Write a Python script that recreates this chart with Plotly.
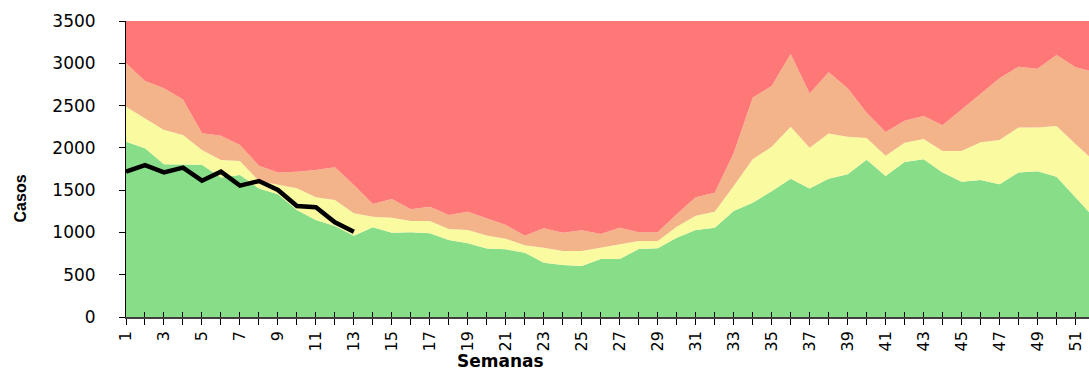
import plotly.graph_objects as go

# Epidemiological weeks
semanas = list(range(1, 53))

# Endemic channel boundaries (cumulative values per week)
zona_exito = [2073, 1994, 1805, 1805, 1800, 1650, 1680, 1520, 1450, 1265,
              1147, 1076, 962, 1060, 997, 1001, 989, 910, 871, 810,
              800, 761, 642, 615, 603, 686, 686, 804, 812, 938,
              1029, 1056, 1253, 1352, 1486, 1636, 1519, 1636, 1687, 1860,
              1667, 1833, 1864, 1710, 1600, 1620, 1569, 1710, 1722, 1657,
              1420, 1172]
zona_seguridad = [2487, 2349, 2211, 2152, 1974, 1856, 1844, 1608, 1561, 1521,
                  1415, 1383, 1226, 1186, 1174, 1135, 1135, 1040, 1029, 965,
                  926, 847, 820, 780, 780, 820, 851, 899, 899, 1068,
                  1198, 1245, 1549, 1864, 2014, 2250, 2002, 2171, 2132, 2116,
                  1907, 2061, 2104, 1963, 1963, 2065, 2093, 2242, 2242, 2258,
                  2045, 1843]
zona_alarma = [2999, 2790, 2704, 2573, 2172, 2144, 2034, 1789, 1710, 1718,
               1738, 1770, 1561, 1336, 1395, 1273, 1304, 1206, 1245, 1170,
               1088, 962, 1048, 997, 1025, 981, 1056, 1001, 1001, 1214,
               1415, 1470, 1935, 2593, 2731, 3109, 2644, 2893, 2704, 2416,
               2187, 2321, 2376, 2266, 2455, 2644, 2822, 2960, 2936, 3098,
               2952, 2897]
techo = [3500] * 52

# Cases reported in the current year
semanas_actual = list(range(1, 14))
casos_actual = [1718, 1797, 1710, 1766, 1612, 1718, 1553, 1608, 1502, 1312,
                1297, 1119, 1009]

verde = "#88DD88"
amarillo = "#FAFAA0"
naranja = "#F4B48A"
rojo = "#FF7878"

fig = go.Figure()
fig.add_trace(go.Scatter(x=semanas, y=zona_exito, mode="lines", line=dict(width=0),
                         fill="tozeroy", fillcolor=verde, hoverinfo="skip"))
fig.add_trace(go.Scatter(x=semanas, y=zona_seguridad, mode="lines", line=dict(width=0),
                         fill="tonexty", fillcolor=amarillo, hoverinfo="skip"))
fig.add_trace(go.Scatter(x=semanas, y=zona_alarma, mode="lines", line=dict(width=0),
                         fill="tonexty", fillcolor=naranja, hoverinfo="skip"))
fig.add_trace(go.Scatter(x=semanas, y=techo, mode="lines", line=dict(width=0),
                         fill="tonexty", fillcolor=rojo, hoverinfo="skip"))
fig.add_trace(go.Scatter(x=semanas_actual, y=casos_actual, mode="lines",
                         line=dict(color="black", width=4.5)))

x_rango = [1, 51.71]
etiquetas = list(range(1, 52, 2))
fuente_ejes = "DejaVu Sans, Verdana, sans-serif"

fig.update_layout(
    width=1089, height=371,
    margin=dict(l=126, r=0, t=21, b=54),
    paper_bgcolor="white", plot_bgcolor="white",
    showlegend=False,
    font=dict(family="Liberation Sans, Arial, sans-serif", size=16, color="black"),
    xaxis=dict(
        range=x_rango, tickmode="array", tickvals=etiquetas,
        ticktext=[str(v) for v in etiquetas], tickangle=-90,
        ticks="outside", ticklen=6, tickcolor="black", tickwidth=1,
        minor=dict(dtick=1, tick0=1, ticks="outside", ticklen=6,
                   tickcolor="black", tickwidth=1),
        showline=True, linecolor="#404040", linewidth=1.5,
        showgrid=False, zeroline=False, fixedrange=True,
        tickfont=dict(family=fuente_ejes, size=16),
    ),
    xaxis2=dict(
        range=x_rango, overlaying="x", side="bottom", anchor="y",
        tickmode="linear", tick0=1, dtick=1, showticklabels=False,
        ticks="inside", ticklen=5, tickcolor="black", tickwidth=1,
        showline=False, showgrid=False, zeroline=False,
    ),
    yaxis=dict(
        range=[0, 3500], dtick=500, ticks="outside", ticklen=6,
        tickcolor="black", showline=True, linecolor="black", linewidth=1,
        showgrid=False, zeroline=False, ticklabelstandoff=20,
        tickfont=dict(family=fuente_ejes, size=17),
    ),
    annotations=[
        dict(text="<b>Casos</b>", xref="paper", yref="paper",
             x=-0.1096, y=0.402, textangle=-90, showarrow=False,
             font=dict(size=16), xanchor="center", yanchor="middle"),
        dict(text="<b>Semanas</b>", xref="paper", yref="paper",
             x=(500 - 126) / 963, y=-(361 - 317) / 296, showarrow=False,
             font=dict(family=fuente_ejes, size=17),
             xanchor="center", yanchor="middle"),
    ],
)

# A blank trace on the overlay axis so its upward ticks are rendered
fig.add_trace(go.Scatter(x=[None], y=[None], xaxis="x2", yaxis="y",
                         mode="lines", hoverinfo="skip"))

fig.write_html("out.html")
